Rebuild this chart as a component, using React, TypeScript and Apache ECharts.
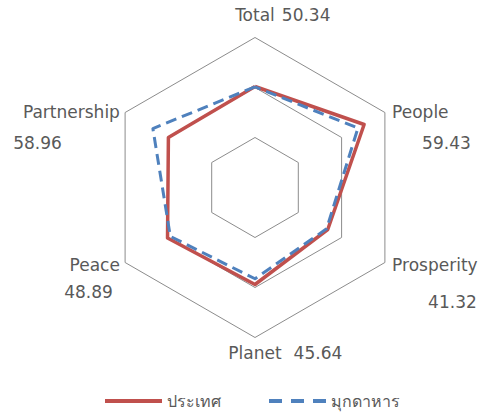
import React, { useEffect, useRef } from "react";
import * as echarts from "echarts";

// ---- data ----
const indicators = ["Total", "Partnership", "Peace", "Planet", "Prosperity", "People"];
const countryValues = [50.5, 50, 50.5, 48.5, 42, 63];
const mukdahanValues = [50.34, 58.96, 48.89, 45.64, 41.32, 59.43];
const valueLabels = ["50.34", "58.96", "48.89", "45.64", "41.32", "59.43"];
const seriesNames = ["ประเทศ", "มุกดาหาร"];
const axisMax = 75;

// ---- label layout (styles only) ----
type SideLayout = { top: number; name: number; value: number; nPad: number[]; vPad: number[] };
const sideLayout: Record<string, SideLayout> = {
  Partnership: { top: 47, name: 20, value: 42, nPad: [0, 0, 0, 0], vPad: [0, 58, 0, 0] },
  Peace: { top: 33, name: 20, value: 34, nPad: [0, 0, 0, 0], vPad: [0, 7, 0, 0] },
  Prosperity: { top: 53, name: 20, value: 54, nPad: [0, 0, 0, 2], vPad: [0, 0, 0, 38] },
  People: { top: 47, name: 20, value: 42, nPad: [0, 0, 0, 2], vPad: [0, 0, 0, 32] },
};

const rich: Record<string, any> = {
  tn: { padding: [0, 0, 0, 55.6], lineHeight: 34 },
  tv: { padding: [0, 0, 0, 7], lineHeight: 34 },
  pn: { padding: [0, 0, 0, 60.6], lineHeight: 19 },
  pv: { padding: [0, 0, 0, 12], lineHeight: 19 },
};
Object.keys(sideLayout).forEach((k, i) => {
  const l = sideLayout[k];
  rich["s" + i] = { lineHeight: l.top };
  rich["n" + i] = { lineHeight: l.name, padding: l.nPad };
  rich["v" + i] = { lineHeight: l.value, padding: l.vPad };
});

function formatName(name: string): string {
  const idx = indicators.indexOf(name);
  const val = valueLabels[idx];
  if (name === "Total") return `{tn|${name}}{tv|${val}}`;
  if (name === "Planet") return `{pn|${name}}{pv|${val}}`;
  const i = Object.keys(sideLayout).indexOf(name);
  return `{s${i}| }\n{n${i}|${name}}\n{v${i}|${val}}`;
}

export default function App() {
  const ref = useRef<HTMLDivElement>(null);
  useEffect(() => {
    if (!ref.current) return;
    const chart = echarts.init(ref.current, undefined, { renderer: "svg" });
    chart.setOption({
      animation: false,
      backgroundColor: "#ffffff",
      legend: {
        left: 100,
        top: 386,
        itemWidth: 57,
        itemHeight: 4,
        itemGap: 48,
        textStyle: { color: "#595959", fontSize: 16, fontFamily: "DejaVu Sans", lineHeight: 20 },
        data: [
          { name: seriesNames[0], icon: "rect" },
          {
            name: seriesNames[1],
            icon: "path://M0,0h13v4h-13z M22,0h13v4h-13z M44,0h13v4h-13z",
          },
        ],
      },
      radar: {
        center: [255, 187.5],
        radius: 150,
        startAngle: 90,
        shape: "polygon",
        splitNumber: 3,
        axisNameGap: 6,
        indicator: indicators.map((n) => ({ name: n, min: 0, max: axisMax })),
        axisName: {
          color: "#595959",
          fontSize: 17,
          fontFamily: "DejaVu Sans",
          formatter: (name: string) => formatName(name),
          rich,
        },
        axisLine: { show: false },
        axisTick: { show: false },
        axisLabel: { show: false },
        splitArea: { show: false },
        splitLine: { lineStyle: { color: "#8c8c8c", width: 1 } },
      },
      series: [
        {
          type: "radar",
          symbol: "none",
          data: [
            {
              name: seriesNames[0],
              value: countryValues,
              itemStyle: { color: "#C0504D" },
              lineStyle: { color: "#C0504D", width: 3.5 },
            },
            {
              name: seriesNames[1],
              value: mukdahanValues,
              itemStyle: { color: "#4F81BD" },
              lineStyle: { color: "#4F81BD", width: 3, type: [11, 6] },
            },
          ],
        },
      ],
    });
    return () => chart.dispose();
  }, []);
  return (
    <div
      ref={ref}
      style={{ position: "fixed", left: 0, top: 0, width: 479, height: 412 }}
    />
  );
}
